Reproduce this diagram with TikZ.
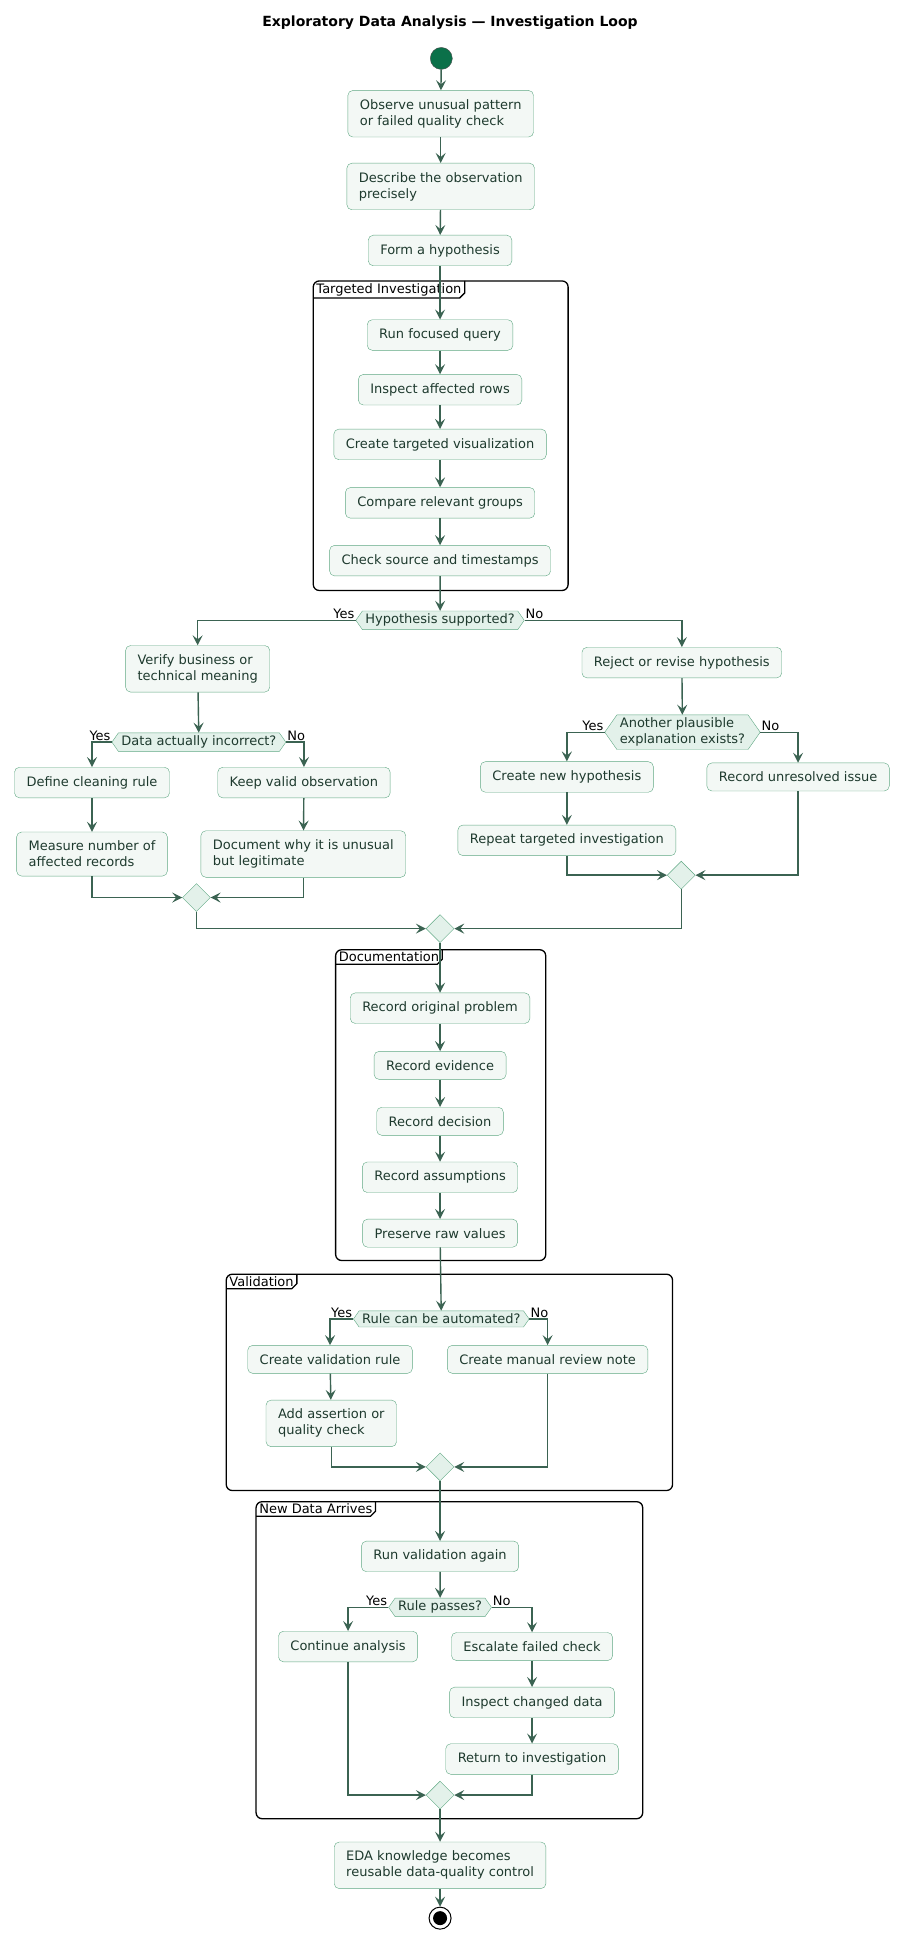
\documentclass[tikz,border=0pt]{standalone}
\usepackage{fontspec}
\setmainfont{DejaVu Sans}
\usetikzlibrary{shapes.geometric, shapes.symbols, arrows.meta, positioning}
\definecolor{boxfill}{HTML}{F3F8F5}
\definecolor{boxline}{HTML}{5FA883}
\definecolor{flowline}{HTML}{3B6352}
\definecolor{boxtext}{HTML}{1E3A2E}
\definecolor{startfill}{HTML}{0B7049}
\definecolor{mergefill}{HTML}{E3F1EA}
\tikzstyle{action} = [rectangle, rounded corners=5pt, draw=boxline, fill=boxfill, text=boxtext, align=left, inner xsep=12pt, inner ysep=9pt, font=\fontsize{13}{16}\selectfont]
\tikzstyle{decision} = [signal, signal to=east and west, signal pointer angle=110, draw=boxline, fill=mergefill, text=boxtext, align=left, inner xsep=3pt, inner ysep=3pt, font=\fontsize{13}{16}\selectfont]
\tikzstyle{merge} = [diamond, draw=boxline, fill=mergefill, minimum size=28pt, inner sep=0pt]
\tikzstyle{flow} = [draw=flowline, line width=1.4pt, -{Stealth[length=10pt, width=10pt, inset=4pt]}]
\tikzstyle{group} = [draw=black, line width=1.3pt, rounded corners=6pt]
\tikzstyle{grouplabel} = [anchor=north west, inner xsep=3pt, inner ysep=2pt, font=\fontsize{13}{16}\selectfont]
\tikzstyle{answer} = [inner sep=1pt, font=\fontsize{13}{16}\selectfont]
\newcommand{\drawgroup}[6]{
  \draw[group] (#1,#2) rectangle (#3,#4);
  \node (#5) [grouplabel] at (#1,#2) {#6\hspace{4pt}};
  \draw[line width=1.3pt] (#5.north east) -- ([yshift=5pt]#5.south east) -- ([xshift=-5pt]#5.south east) -- (#5.south west);
}

\begin{document}
\begin{tikzpicture}[x=1.243pt, y=-1.243pt]
\useasboundingbox (0,0) rectangle (725,1563);

\node (title) at (362,18) {\fontsize{14}{16}\selectfont\bfseries Exploratory Data Analysis — Investigation Loop};

% groups
\drawgroup{252}{226}{457}{475}{gTarget}{Targeted Investigation}
\drawgroup{270}{764}{439}{1014}{gDoc}{Documentation}
\drawgroup{182}{1025}{541}{1199}{gValid}{Validation}
\drawgroup{206}{1208}{517}{1463}{gNew}{New Data Arrives}

\node (start) [circle, draw=black!70, fill=startfill, minimum size=22pt, inner sep=0pt] at (355,47) {};
\node (observe) [action] at (354.5,91.5) {Observe unusual pattern\\or failed quality check};
\node (describe) [action] at (354.5,150) {Describe the observation\\precisely};
\node (hypothesis) [action] at (354,201.5) {Form a hypothesis};

% targeted investigation
\node (runQuery) [action] at (354,269.5) {Run focused query};
\node (inspectRows) [action] at (354,313.5) {Inspect affected rows};
\node (targetViz) [action] at (354,357.5) {Create targeted visualization};
\node (compareGroups) [action] at (354,404.5) {Compare relevant groups};
\node (checkSource) [action] at (354,451) {Check source and timestamps};

\node (supported) [decision] at (354,499) {Hypothesis supported?};
\node (verify) [action] at (159,538) {Verify business or\\technical meaning};
\node (reject) [action] at (548.5,533) {Reject or revise hypothesis};
\node (incorrect) [decision] at (160,597) {Data actually incorrect?};
\node (another) [decision] at (549,589) {Another plausible\\explanation exists?};
\node (cleaning) [action] at (74,629.5) {Define cleaning rule};
\node (keepValid) [action] at (244.5,629.5) {Keep valid observation};
\node (measure) [action] at (74,687) {Measure number of\\affected records};
\node (docWhy) [action] at (244,687) {Document why it is unusual\\but legitimate};
\node (newHyp) [action] at (456,625) {Create new hypothesis};
\node (unresolved) [action] at (642,625) {Record unresolved issue};
\node (repeat) [action] at (456,676) {Repeat targeted investigation};
\node (mergeLeft) [merge] at (158,722) {};
\node (mergeRight) [merge] at (548,704) {};
\node (mergeAll) [merge] at (354,747) {};

% documentation
\node (recProblem) [action] at (354,811) {Record original problem};
\node (recEvidence) [action] at (354,857) {Record evidence};
\node (recDecision) [action] at (354,902) {Record decision};
\node (recAssume) [action] at (354,947) {Record assumptions};
\node (rawValues) [action] at (354,992) {Preserve raw values};

% validation
\node (automated) [decision] at (355,1061) {Rule can be automated?};
\node (valRule) [action] at (265.5,1093.5) {Create validation rule};
\node (manual) [action] at (440.5,1093.5) {Create manual review note};
\node (assertion) [action] at (266.5,1145) {Add assertion or\\quality check};
\node (mergeValid) [merge] at (354,1180) {};

% new data
\node (runAgain) [action] at (354,1252) {Run validation again};
\node (passes) [decision] at (354,1293) {Rule passes?};
\node (continue) [action] at (280,1324.5) {Continue analysis};
\node (escalate) [action] at (428,1324.5) {Escalate failed check};
\node (inspectChanged) [action] at (428,1369.5) {Inspect changed data};
\node (returnInv) [action] at (428,1415) {Return to investigation};
\node (mergeNew) [merge] at (354,1444) {};

\node (knowledge) [action] at (354,1500.5) {EDA knowledge becomes\\reusable data-quality control};
\node (stop) [circle, draw=black, line width=1pt, fill=white, minimum size=22pt, inner sep=0pt] at (354,1543) {};
\node (stopDot) [circle, fill=black, minimum size=14pt, inner sep=0pt] at (stop) {};

% answers
\node (yes1) [answer, anchor=south east] at (supported.west) {Yes};
\node (no1) [answer, anchor=south west] at (supported.east) {No};
\node (yes2) [answer, anchor=south east] at (incorrect.west) {Yes};
\node (no2) [answer, anchor=south west] at (incorrect.east) {No};
\node (yes3) [answer, anchor=south east] at (another.west) {Yes};
\node (no3) [answer, anchor=south west] at (another.east) {No};
\node (yes4) [answer, anchor=south east] at (automated.west) {Yes};
\node (no4) [answer, anchor=south west] at (automated.east) {No};
\node (yes5) [answer, anchor=south east] at (passes.west) {Yes};
\node (no5) [answer, anchor=south west] at (passes.east) {No};

\draw[flow] (start) -- (observe);
\draw[flow] (observe) -- (describe);
\draw[flow] (describe) -- (hypothesis);
\draw[flow] (hypothesis) -- (runQuery);
\draw[flow] (runQuery) -- (inspectRows);
\draw[flow] (inspectRows) -- (targetViz);
\draw[flow] (targetViz) -- (compareGroups);
\draw[flow] (compareGroups) -- (checkSource);
\draw[flow] (checkSource) -- (supported);
\draw[flow] (supported.west) -| (verify.north);
\draw[flow] (supported.east) -| (reject.north);
\draw[flow] (verify) -- (incorrect);
\draw[flow] (incorrect.west) -| (cleaning.north);
\draw[flow] (incorrect.east) -| (keepValid.north);
\draw[flow] (cleaning) -- (measure);
\draw[flow] (keepValid) -- (docWhy);
\draw[flow] (measure.south) |- (mergeLeft.west);
\draw[flow] (docWhy.south) |- (mergeLeft.east);
\draw[flow] (reject) -- (another);
\draw[flow] (another.west) -| (newHyp.north);
\draw[flow] (another.east) -| (unresolved.north);
\draw[flow] (newHyp) -- (repeat);
\draw[flow] (repeat.south) |- (mergeRight.west);
\draw[flow] (unresolved.south) |- (mergeRight.east);
\draw[flow] (mergeLeft.south) |- (mergeAll.west);
\draw[flow] (mergeRight.south) |- (mergeAll.east);
\draw[flow] (mergeAll) -- (recProblem);
\draw[flow] (recProblem) -- (recEvidence);
\draw[flow] (recEvidence) -- (recDecision);
\draw[flow] (recDecision) -- (recAssume);
\draw[flow] (recAssume) -- (rawValues);
\draw[flow] (rawValues) -- (automated);
\draw[flow] (automated.west) -| (valRule.north);
\draw[flow] (automated.east) -| (manual.north);
\draw[flow] (valRule) -- (assertion);
\draw[flow] (assertion.south) |- (mergeValid.west);
\draw[flow] (manual.south) |- (mergeValid.east);
\draw[flow] (mergeValid) -- (runAgain);
\draw[flow] (runAgain) -- (passes);
\draw[flow] (passes.west) -| (continue.north);
\draw[flow] (passes.east) -| (escalate.north);
\draw[flow] (escalate) -- (inspectChanged);
\draw[flow] (inspectChanged) -- (returnInv);
\draw[flow] (continue.south) |- (mergeNew.west);
\draw[flow] (returnInv.south) |- (mergeNew.east);
\draw[flow] (mergeNew) -- (knowledge);
\draw[flow] (knowledge) -- (stop);

\end{tikzpicture}
\end{document}
